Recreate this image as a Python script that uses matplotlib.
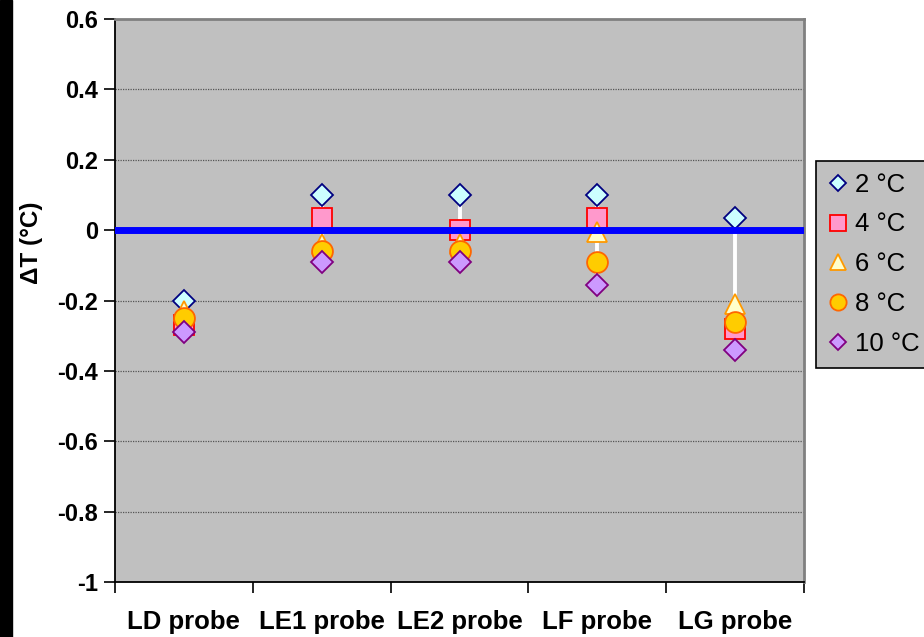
import numpy as np
import matplotlib
matplotlib.use("Agg")
import matplotlib.pyplot as plt
from matplotlib.patches import Rectangle

plt.rcParams['font.family'] = ['Liberation Sans', 'DejaVu Sans']

# Data
probes = ['LD probe', 'LE1 probe', 'LE2 probe', 'LF probe', 'LG probe']
labels = ['2 °C', '4 °C', '6 °C', '8 °C', '10 °C']
t2 = [-0.20, 0.10, 0.10, 0.10, 0.035]
t4 = [-0.27, 0.035, 0.0, 0.035, -0.28]
t6 = [-0.23, -0.04, -0.04, -0.005, -0.21]
t8 = [-0.25, -0.06, -0.06, -0.09, -0.26]
t10 = [-0.29, -0.09, -0.09, -0.155, -0.34]

series = [t2, t4, t6, t8, t10]
markers = ['D', 's', '^', 'o', 'D']
sizes = [11, 14, 15, 15, 11]
faces = ['#CCFFFF', '#FF99CC', '#FFFFCC', '#FFCC00', '#CC99FF']
edges = ['#000080', '#FF0000', '#FF9900', '#FF6600', '#800080']

fig = plt.figure(figsize=(9.24, 6.37), dpi=100)
ax = fig.add_axes([115 / 924, 1 - 582 / 637, (804 - 115) / 924, (582 - 19) / 637])
ax.set_facecolor('#C0C0C0')

# black strip at the left edge
fig.patches.append(Rectangle((0, 0), 12 / 924, 1, transform=fig.transFigure,
                             color='black', zorder=0))

x = np.arange(len(probes))
data = np.array(series)

# high-low lines
ax.vlines(x, data.min(axis=0), data.max(axis=0), color='white', lw=2.8, zorder=2)

for s, m, ms, fc, ec, lab in zip(series, markers, sizes, faces, edges, labels):
    ax.plot(x, s, linestyle='none', marker=m, markersize=ms, markerfacecolor=fc,
            markeredgecolor=ec, markeredgewidth=1.3, label=lab, zorder=3)

ax.axhline(0, color='#0000FF', lw=5, zorder=4)

ax.set_xlim(-0.5, 4.5)
ax.set_ylim(-1, 0.6)
ax.set_yticks(np.arange(-1, 0.61, 0.2))
ax.set_yticklabels(['-1', '-0.8', '-0.6', '-0.4', '-0.2', '0', '0.2', '0.4', '0.6'],
                   fontsize=17, fontweight='bold')
for yv in [-0.8, -0.6, -0.4, -0.2, 0.2, 0.4]:
    ax.axhline(yv, color='#555555', lw=0.9, ls=(0, (1, 1)), zorder=1)

ax.set_xticks(np.arange(-0.5, 4.6, 1))
ax.set_xticklabels([])
ax.set_xticks(x, minor=True)
ax.set_xticklabels(probes, minor=True, fontsize=18.5, fontweight='bold')
ax.tick_params(axis='x', which='major', length=8, width=1.2, direction='out')
ax.tick_params(axis='x', which='minor', length=0, pad=20)
ax.tick_params(axis='y', length=8, width=1.2, direction='out', pad=4)

ax.set_ylabel('ΔT (°C)', fontsize=17.5, fontweight='bold')
ax.yaxis.set_label_coords(-0.104, 0.602)

for side in ['left', 'bottom']:
    ax.spines[side].set_color('black')
    ax.spines[side].set_linewidth(1.3)
for side in ['top', 'right']:
    ax.spines[side].set_color('#808080')
    ax.spines[side].set_linewidth(2)

leg = fig.legend(loc='upper left', bbox_to_anchor=(816 / 924, 1 - 161 / 637),
                 fontsize=18.5, markerscale=0.78, handlelength=0.8, handletextpad=0.25,
                 labelspacing=0.62, borderpad=0.45, borderaxespad=0, fancybox=False,
                 frameon=True)
leg.get_frame().set_facecolor('#C0C0C0')
leg.get_frame().set_edgecolor('black')
leg.get_frame().set_linewidth(1.2)
leg.get_frame().set_alpha(1)

fig.savefig('out.png', dpi=100)
